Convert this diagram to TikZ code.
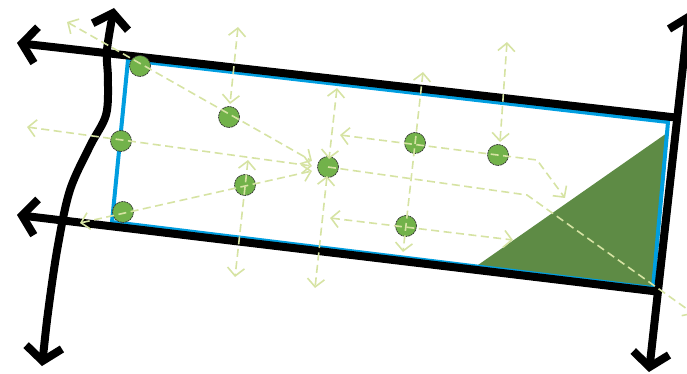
\documentclass[tikz,border=0pt]{standalone}
\usetikzlibrary{arrows.meta}
\definecolor{bluebox}{RGB}{0,158,224}
\definecolor{leaf}{RGB}{94,139,69}
\definecolor{dotgreen}{RGB}{114,178,74}
\definecolor{flow}{RGB}{214,227,163}
\begin{document}
\begin{tikzpicture}[x=1pt,y=-1pt,
  road/.style={line width=8pt, draw=black},
  bigtip/.tip={Straight Barb[length=14pt,width=36pt]},
  smalltip/.tip={Straight Barb[length=8pt,width=17pt]},
  flowline/.style={draw=flow, line width=1.6pt, dash pattern=on 8pt off 4.5pt},
  tree/.style={circle, minimum size=21pt, inner sep=0pt, fill=dotgreen, draw=black!80, line width=0.7pt, dash pattern=on 2pt off 0.7pt},
]
\useasboundingbox (0,0) rectangle (687,374);
% site corners
\coordinate (b1) at (128,60);
\coordinate (b2) at (668,122);
\coordinate (b3) at (653,288);
\coordinate (b4) at (112,222);
% green wedge
\fill[leaf] (478,265) -- (667,133) -- (b3) -- cycle;
% blue boundary
\draw[bluebox, line width=4pt, line join=miter] (b1) -- (b2) -- (b3) -- (b4) -- cycle;
% black roads
\coordinate (tl) at (17,43);
\coordinate (tr) at (680,118);
\coordinate (bl) at (17,215);
\coordinate (br) at (661,292);
\coordinate (rt) at (689,12);
\coordinate (rb) at (649,372);
\draw[road, {bigtip}-] (tl) -- (tr);
\draw[road, {bigtip}-] (bl) -- (br);
\draw[road, {bigtip}-{bigtip}] (rb) -- (rt);
\draw[road, {bigtip}-{bigtip}] plot[smooth, tension=0.55] coordinates
  {(42,366) (49,305) (58,245) (70,190) (90,146) (106,115) (108,80) (107,50) (114,8)};
% trees
\node[tree] (d1) at (140,66) {};
\node[tree] (d2) at (229,117) {};
\node[tree] (d3) at (121,141) {};
\node[tree] (d4) at (123,212) {};
\node[tree] (d5) at (245,185) {};
\node[tree] (d6) at (328,167) {};
\node[tree] (d7) at (415,143) {};
\node[tree] (d8) at (498,155) {};
\node[tree] (d9) at (406,226) {};
% flow ends
\coordinate (f1a) at (67,22);   \coordinate (f1b) at (312,161);
\coordinate (f2a) at (238,27);  \coordinate (f2b) at (230,104);
\coordinate (f3a) at (27,127);  \coordinate (f3b) at (312,166);
\coordinate (f4a) at (80,223);  \coordinate (f4b) at (312,171);
\coordinate (f5a) at (248,160); \coordinate (f5b) at (235,277);
\coordinate (f6a) at (337,88);  \coordinate (f6b) at (329,159);
\coordinate (f6c) at (327,176); \coordinate (f6d) at (315,288);
\coordinate (f7a) at (423,72);  \coordinate (f7b) at (403,252);
\coordinate (f8a) at (340,135); \coordinate (f8b) at (537,160); \coordinate (f8c) at (565,198);
\coordinate (f9a) at (507,42);  \coordinate (f9b) at (500,142);
\coordinate (f10a) at (527,195); \coordinate (f10b) at (694,314);
\coordinate (f11a) at (330,218); \coordinate (f11b) at (513,240);
\draw[flowline, {smalltip}-{smalltip}] (f1a) -- (f1b);
\draw[flowline, {smalltip}-{smalltip}] (f2a) -- (f2b);
\draw[flowline, {smalltip}-{smalltip}] (f3a) -- (f3b);
\draw[flowline, {smalltip}-{smalltip}] (f4a) -- (f4b);
\draw[flowline, {smalltip}-{smalltip}] (f5a) -- (f5b);
\draw[flowline, {smalltip}-{smalltip}] (f6a) -- (f6b);
\draw[flowline, {smalltip}-{smalltip}] (f6c) -- (f6d);
\draw[flowline, {smalltip}-{smalltip}] (f7a) -- (f7b);
\draw[flowline, {smalltip}-{smalltip}] (f8a) -- (f8b) -- (f8c);
\draw[flowline, {smalltip}-{smalltip}] (f9a) -- (f9b);
\draw[flowline, -{smalltip}] (d6.center) -- (f10a) -- (f10b);
\draw[flowline, {smalltip}-{smalltip}] (f11a) -- (f11b);
\end{tikzpicture}
\end{document}
